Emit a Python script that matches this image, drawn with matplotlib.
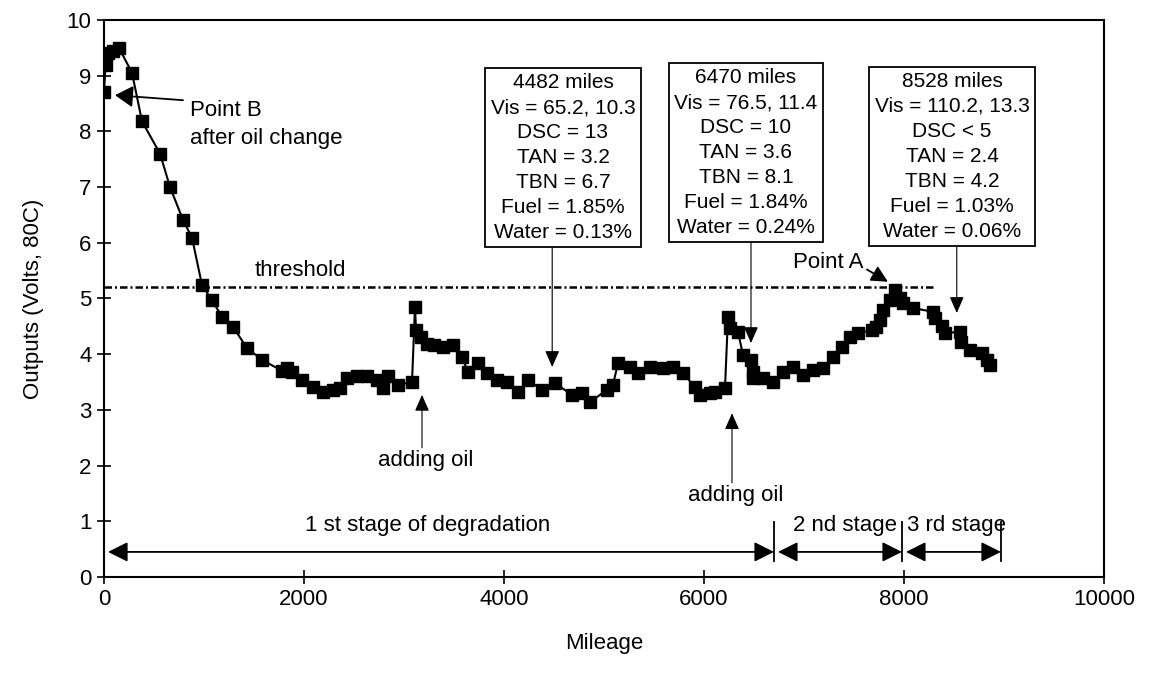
import matplotlib.pyplot as plt

plt.rcParams["font.family"] = ["Liberation Sans", "DejaVu Sans"]

# --- sensor output vs mileage ---
miles = [0, 15, 40, 90, 150, 280, 380, 560, 660, 790, 880, 980, 1080, 1180,
         1290, 1430, 1580, 1780, 1830, 1880, 1980, 2090, 2190, 2290, 2360,
         2430, 2530, 2630, 2730, 2790, 2840, 2940, 3080, 3110, 3120, 3170,
         3230, 3300, 3390, 3490, 3580, 3640, 3740, 3830, 3930, 4030, 4140,
         4240, 4380, 4510, 4680, 4780, 4860, 5030, 5090, 5140, 5260, 5340,
         5460, 5590, 5690, 5790, 5910, 5960, 6060, 6110, 6210, 6240, 6260,
         6340, 6390, 6470, 6490, 6490, 6590, 6690, 6790, 6890, 6990, 7090,
         7190, 7290, 7380, 7460, 7540, 7680, 7720, 7760, 7790, 7860, 7910,
         7960, 7990, 8090, 8290, 8310, 8380, 8410, 8560, 8570, 8660, 8780,
         8830, 8860]
volts = [8.70, 9.20, 9.40, 9.45, 9.50, 9.05, 8.18, 7.60, 7.00, 6.41, 6.09,
         5.24, 4.97, 4.67, 4.49, 4.11, 3.90, 3.70, 3.75, 3.68, 3.54, 3.41,
         3.32, 3.35, 3.39, 3.57, 3.60, 3.60, 3.54, 3.40, 3.60, 3.45, 3.50,
         4.85, 4.43, 4.31, 4.18, 4.16, 4.13, 4.16, 3.95, 3.68, 3.84, 3.66,
         3.54, 3.50, 3.32, 3.54, 3.36, 3.48, 3.27, 3.30, 3.14, 3.36, 3.45,
         3.84, 3.77, 3.66, 3.77, 3.75, 3.77, 3.66, 3.41, 3.27, 3.30, 3.32,
         3.39, 4.67, 4.47, 4.40, 3.99, 3.90, 3.68, 3.57, 3.57, 3.50, 3.68,
         3.77, 3.63, 3.72, 3.75, 3.95, 4.13, 4.31, 4.38, 4.43, 4.49, 4.61,
         4.79, 4.97, 5.15, 5.01, 4.92, 4.83, 4.76, 4.65, 4.50, 4.38, 4.40,
         4.22, 4.07, 4.02, 3.90, 3.80]

threshold = 5.2
threshold_end = 8290

# --- oil analysis samples ---
sample_miles = [4482, 6470, 8528]
sample_tips = [3.77, 4.20, 4.74]
sample_text = [
    "4482 miles\nVis = 65.2, 10.3\nDSC = 13\nTAN = 3.2\nTBN = 6.7\nFuel = 1.85%\nWater = 0.13%",
    "6470 miles\nVis = 76.5, 11.4\nDSC = 10\nTAN = 3.6\nTBN = 8.1\nFuel = 1.84%\nWater = 0.24%",
    "8528 miles\nVis = 110.2, 13.3\nDSC < 5\nTAN = 2.4\nTBN = 4.2\nFuel = 1.03%\nWater = 0.06%",
]
box_x = [4590, 6420, 8480]
box_y = [7.53, 7.62, 7.55]

# --- degradation stages ---
stage_edges = [0, 6700, 7980, 8970]
stage_names = ["1 st stage of degradation", "2 nd stage", "3 rd stage"]
stage_label_x = [3240, 7410, 8530]

oil_added = [3180, 6280]
oil_tip = [3.27, 2.94]
oil_text_y = [2.10, 1.47]

fig = plt.figure(figsize=(11.52, 6.8), dpi=100)
ax = fig.add_axes([0.0903, 0.1515, 0.868, 0.8191])

ax.plot(miles, volts, color="black", lw=1.5, marker="s", ms=8,
        mec="black", mfc="black", zorder=3)

# threshold
ax.plot([0, threshold_end], [threshold, threshold], color="black", lw=1.8,
        dashes=(3, 1.2, 0.8, 1.2))
ax.text(1960, 5.51, "threshold", fontsize=16, ha="center", va="center")

# sample boxes with pointers
for x, t, bx, by, txt in zip(sample_miles, sample_tips, box_x, box_y, sample_text):
    ax.annotate("", xy=(x, t), xytext=(x, by - 1.6),
                arrowprops=dict(arrowstyle="-|>,head_length=0.5,head_width=0.22",
                                color="black", lw=0.8, shrinkA=0, shrinkB=0,
                                mutation_scale=20), zorder=4)
    ax.text(bx, by, txt, fontsize=15, ha="center", va="center", linespacing=1.4,
            bbox=dict(boxstyle="square,pad=0.25", fc="white", ec="black", lw=1.3),
            zorder=5)

# point labels
ax.annotate("", xy=(110, 8.65), xytext=(790, 8.56),
            arrowprops=dict(arrowstyle="-|>,head_length=0.5,head_width=0.3",
                            color="black", lw=1.3, shrinkA=0, shrinkB=0,
                            mutation_scale=22))
ax.text(860, 8.38, "Point B", fontsize=16, ha="left", va="center")
ax.text(860, 7.88, "after oil change", fontsize=16, ha="left", va="center")

ax.annotate("", xy=(7840, 5.30), xytext=(7630, 5.52),
            arrowprops=dict(arrowstyle="-|>,head_length=0.5,head_width=0.25",
                            color="black", lw=1.3, shrinkA=0, shrinkB=0,
                            mutation_scale=20))
ax.text(7600, 5.64, "Point A", fontsize=16, ha="right", va="center")

# adding oil
for x, tip, ty in zip(oil_added, oil_tip, oil_text_y):
    ax.annotate("", xy=(x, tip), xytext=(x, ty + 0.22),
                arrowprops=dict(arrowstyle="-|>,head_length=0.5,head_width=0.22",
                                color="black", lw=0.8, shrinkA=0, shrinkB=0,
                                mutation_scale=20))
    ax.text(x + 40, ty, "adding oil", fontsize=16, ha="center", va="center")

# stage arrows
for i in range(3):
    ax.annotate("", xy=(stage_edges[i + 1], 0.45), xytext=(stage_edges[i] + 40, 0.45),
                arrowprops=dict(arrowstyle="<|-|>,head_length=0.5,head_width=0.25",
                                color="black", lw=1.3, shrinkA=0, shrinkB=0,
                                mutation_scale=24))
    ax.text(stage_label_x[i], 0.93, stage_names[i], fontsize=16,
            ha="center", va="center")
for e in stage_edges[1:]:
    ax.plot([e, e], [0.29, 0.98], color="black", lw=1.3)

ax.set_xlim(0, 10000)
ax.set_ylim(0, 10)
ax.set_xticks(range(0, 10001, 2000))
ax.set_yticks(range(0, 11))
ax.tick_params(direction="inout", length=10, width=1.2, labelsize=16, pad=4)
for s in ax.spines.values():
    s.set_linewidth(1.5)
ax.set_xlabel("Mileage", fontsize=16, labelpad=16)
ax.set_ylabel("Outputs (Volts, 80C)", fontsize=16, labelpad=16)

plt.savefig("out.png", dpi=100)
plt.close()
